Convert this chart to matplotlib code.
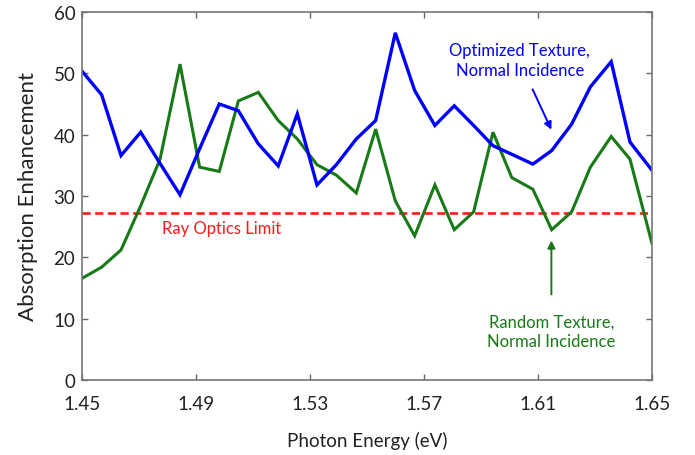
import matplotlib
matplotlib.use("Agg")
import matplotlib.pyplot as plt

plt.rcParams['font.family'] = ['Lato', 'DejaVu Sans']

energy = [1.450, 1.4568, 1.4636, 1.4705, 1.4773, 1.4843, 1.4912, 1.4981, 1.5048, 1.5118,
          1.5188, 1.5255, 1.5324, 1.5392, 1.5462, 1.5530, 1.5599, 1.5667, 1.5738, 1.5806,
          1.5874, 1.5942, 1.6008, 1.6082, 1.6148, 1.6218, 1.6284, 1.6357, 1.6423, 1.6500]
optimized = [50.3, 46.5, 36.6, 40.4, 35.3, 30.2, 37.7, 45.0, 43.9, 38.5,
             34.9, 43.4, 31.8, 35.1, 39.3, 42.3, 56.6, 47.2, 41.5, 44.7,
             41.5, 38.2, 36.8, 35.2, 37.4, 41.7, 47.8, 51.9, 38.8, 34.2]
random_tex = [16.6, 18.4, 21.2, 28.4, 36.0, 51.5, 34.7, 34.0, 45.5, 46.9,
              42.3, 39.3, 35.1, 33.4, 30.5, 40.9, 29.2, 23.5, 31.8, 24.5,
              27.4, 40.4, 33.0, 31.1, 24.5, 27.4, 34.7, 39.7, 36.0, 22.3]
ray_optics_limit = 27.3
xticks = [1.45, 1.49, 1.53, 1.57, 1.61, 1.65]
yticks = [0, 10, 20, 30, 40, 50, 60]

fig = plt.figure(figsize=(6.95, 4.56), dpi=100)
ax = fig.add_axes([0.1184, 0.1645, 0.8196, 0.807])

blue = '#0000ff'
green = '#177a17'
red = '#ff1a1a'

ax.axhline(ray_optics_limit, color=red, lw=1.9, ls=(0, (3.1, 1.7)))
ax.plot(energy, random_tex, color=green, lw=2.2, solid_joinstyle='miter')
ax.plot(energy, optimized, color=blue, lw=2.4, solid_joinstyle='miter')

ax.set_xlim(1.45, 1.65)
ax.set_ylim(0, 60)
ax.set_xticks(xticks)
ax.set_xticklabels([f"{t:.2f}" for t in xticks])
ax.set_yticks(yticks)
ax.tick_params(direction='in', length=4, width=1, colors='#666666',
               labelcolor='#222222', labelsize=13.5, top=True, right=True)
ax.tick_params(axis='x', pad=10.5)
ax.tick_params(axis='y', pad=5)
for s in ax.spines.values():
    s.set_color('#777777')
    s.set_linewidth(1.2)

ax.set_xlabel('Photon Energy (eV)', fontsize=13.5, color='#222222', labelpad=14)
ax.set_ylabel('Absorption Enhancement', fontsize=16, color='#222222', labelpad=11)

ax.text(1.499, 24.8, 'Ray Optics Limit', color=red, fontsize=12, ha='center', va='center')
ax.text(1.6036, 52.2, 'Optimized Texture,\nNormal Incidence', color=blue, fontsize=12,
        ha='center', va='center', linespacing=1.3)
ax.annotate('', xy=(1.6151, 40.4), xytext=(1.6077, 47.8),
            arrowprops=dict(arrowstyle='-|>', color=blue, lw=1.4, mutation_scale=11))
ax.text(1.6147, 7.9, 'Random Texture,\nNormal Incidence', color=green, fontsize=12,
        ha='center', va='center', linespacing=1.3)
ax.annotate('', xy=(1.6147, 23.2), xytext=(1.6147, 13.5),
            arrowprops=dict(arrowstyle='-|>', color=green, lw=1.4, mutation_scale=11))

fig.savefig('out.png', dpi=100)
